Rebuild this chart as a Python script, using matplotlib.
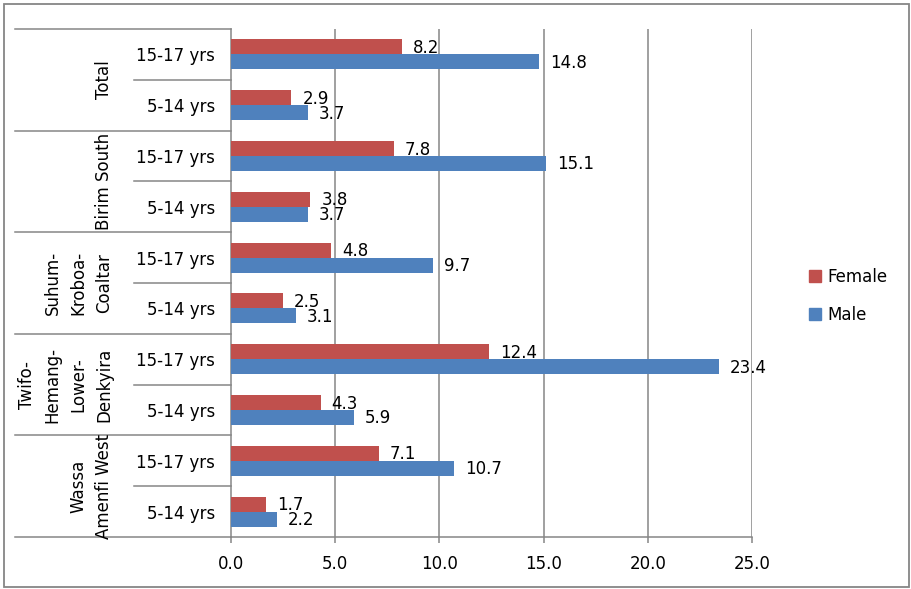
import numpy as np
import matplotlib
matplotlib.use("Agg")
import matplotlib.pyplot as plt
from matplotlib.patches import Patch, Rectangle
from matplotlib.lines import Line2D
import matplotlib.transforms as mtransforms

plt.rcParams['font.family'] = ['DejaVu Sans']

# data, top row first
districts = ["Total", "Birim South", "Suhum-\nKroboa-\nCoaltar",
             "Twifo-\nHemang-\nLower-\nDenkyira", "Wassa\nAmenfi West"]
ages = ["15-17 yrs", "5-14 yrs"]
female = [8.2, 2.9, 7.8, 3.8, 4.8, 2.5, 12.4, 4.3, 7.1, 1.7]
male = [14.8, 3.7, 15.1, 3.7, 9.7, 3.1, 23.4, 5.9, 10.7, 2.2]
xticks = [0, 5, 10, 15, 20, 25]

RED = "#C0504D"
BLUE = "#4F81BD"
GREY = "#868686"
W, H = 911, 589

fig = plt.figure(figsize=(W / 100, H / 100), dpi=100)
ax = fig.add_axes([231 / W, 1 - 537 / H, (752 - 231) / W, (537 - 29) / H])

rows = np.arange(len(female))
bh = 0.295
fb = ax.barh(rows - bh / 2, female, height=bh, color=RED, zorder=3)
mb = ax.barh(rows + bh / 2, male, height=bh, color=BLUE, zorder=3)

# value labels (they overlap a little for close pairs, like the original)
for bars, vals in ((fb, female), (mb, male)):
    for b, v in zip(bars, vals):
        ax.annotate("%.1f" % v, (b.get_width(), b.get_y() + b.get_height() / 2),
                    xytext=(11, -1), textcoords="offset pixels",
                    ha="left", va="center", fontsize=12, color="black", zorder=4)

ax.set_xlim(0, 25)
ax.set_ylim(len(female) - 0.5, -0.5)
ax.set_xticks(xticks)
ax.set_xticklabels(["%.1f" % t for t in xticks], fontsize=12)
ax.set_yticks(rows)
ax.set_yticklabels(ages * len(districts), fontsize=12)
ax.tick_params(axis="y", length=0, pad=11.5)
ax.tick_params(axis="x", length=4, width=1.1, color=GREY, pad=9, direction="out")
for t in xticks[1:]:
    ax.axvline(t, color=GREY, lw=1.1, zorder=1)
for s in ["top", "right"]:
    ax.spines[s].set_visible(False)
for s in ["left", "bottom"]:
    ax.spines[s].set_color(GREY)
    ax.spines[s].set_linewidth(1.1)

# multi-level category axis lines and group labels
trans = mtransforms.blended_transform_factory(fig.transFigure, ax.transData)
x_axis = 231 / W
for g in range(len(districts) + 1):
    yb = 2 * g - 0.5
    ax.add_line(Line2D([15 / W, x_axis], [yb, yb], transform=trans,
                       color=GREY, lw=1.1, clip_on=False))
for g in range(len(districts)):
    ys = 2 * g + 0.5
    ax.add_line(Line2D([134 / W, x_axis], [ys, ys], transform=trans,
                       color=GREY, lw=1.1, clip_on=False))
    ax.text(113 / W, 2 * g + 0.5, districts[g], transform=trans, rotation=90,
            ha="right", va="center", multialignment="center", fontsize=12,
            linespacing=1.55)

ax.legend([Patch(color=RED), Patch(color=BLUE)], ["Female", "Male"],
          loc="center left", bbox_to_anchor=(801 / W, 1 - 296 / H),
          bbox_transform=fig.transFigure, frameon=False, fontsize=12,
          handlelength=0.72, handleheight=0.72, handletextpad=0.35,
          labelspacing=1.2, borderpad=0)

fig.patches.append(Rectangle((4 / W, 2 / H), 905 / W, 583 / H, transform=fig.transFigure,
                             fill=False, edgecolor=GREY, lw=1.3))

fig.savefig("out.png", dpi=100)
